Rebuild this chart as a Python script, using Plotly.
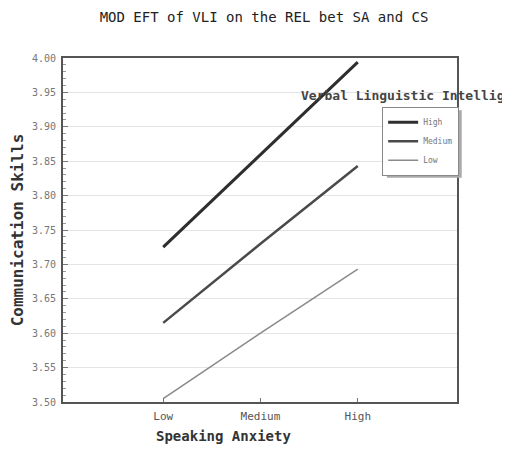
import plotly.graph_objects as go

categories = ["Low", "Medium", "High"]
series_names = ["High", "Medium", "Low"]
high_vals = [3.725, 3.860, 3.994]
medium_vals = [3.615, 3.730, 3.843]
low_vals = [3.505, 3.600, 3.693]
y_ticks = [3.50, 3.55, 3.60, 3.65, 3.70, 3.75, 3.80, 3.85, 3.90, 3.95, 4.00]

values = [high_vals, medium_vals, low_vals]
colors = ["#2e2e2e", "#4a4a4a", "#8a8a8a"]
widths = [3, 2.5, 1.5]

FONT = "DejaVu Sans Mono"

fig = go.Figure()
for name, vals, c, w in zip(series_names, values, colors, widths):
    fig.add_trace(go.Scatter(x=[0, 1, 2], y=vals, mode="lines", name=name,
                             line=dict(color=c, width=w)))

fig.update_layout(
    width=502, height=442,
    margin=dict(l=55, r=53, t=50, b=48),
    paper_bgcolor="white", plot_bgcolor="white",
    font=dict(family=FONT, size=9, color="#555"),
    title=dict(text="MOD EFT of VLI on the REL bet SA and CS",
               x=0.51, xanchor="center", y=0.98, yanchor="middle",
               font=dict(family=FONT, size=14, color="#222")),
    showlegend=True,
    legend=dict(x=0.81, y=0.858, xanchor="left", yanchor="top",
                bgcolor="white", bordercolor="#888", borderwidth=1,
                font=dict(family=FONT, size=8, color="#777"),
                itemwidth=30, tracegroupgap=0),
)
fig.update_xaxes(
    range=[-1.03, 3.02], tickvals=[0, 1, 2], ticktext=categories,
    showgrid=False, zeroline=False, automargin=False,
    showline=True, linecolor="#555", linewidth=2, mirror=True,
    ticks="inside", ticklen=4, tickcolor="#777",
    ticklabelstandoff=3,
    tickfont=dict(family=FONT, size=11, color="#555"),
)
fig.update_yaxes(
    range=[3.5, 4.0], tickvals=y_ticks, ticktext=[f"{v:.2f}" for v in y_ticks],
    showgrid=True, gridcolor="#e4e4e4", gridwidth=1, zeroline=False, automargin=False,
    showline=True, linecolor="#555", linewidth=2, mirror=True,
    ticks="inside", ticklen=5, tickcolor="#777",
    ticklabelstandoff=3,
    tickfont=dict(family=FONT, size=10, color="#777"),
    minor=dict(dtick=0.01, ticks="inside", ticklen=3, tickcolor="#999", showgrid=False),
    title=dict(text="<b>Communication Skills</b>", standoff=4,
               font=dict(family=FONT, size=16, color="#333")),
)
fig.add_annotation(text="<b>Speaking Anxiety</b>", xref="paper", yref="paper",
                   x=0.232, y=-0.10, xanchor="left", yanchor="middle", showarrow=False,
                   font=dict(family=FONT, size=14, color="#333"))
fig.add_annotation(text="<b>Verbal Linguistic Intellig</b>", xref="paper", yref="paper",
                   x=0.60, y=0.892, xanchor="left", yanchor="middle", showarrow=False,
                   font=dict(family=FONT, size=13, color="#444"))
# legend drop shadow
fig.add_shape(type="rect", xref="paper", yref="paper", x0=0.822, x1=1.012, y0=0.652, y1=0.848,
              fillcolor="#aaa", line=dict(width=0), layer="above")
fig.write_html("out.html")
